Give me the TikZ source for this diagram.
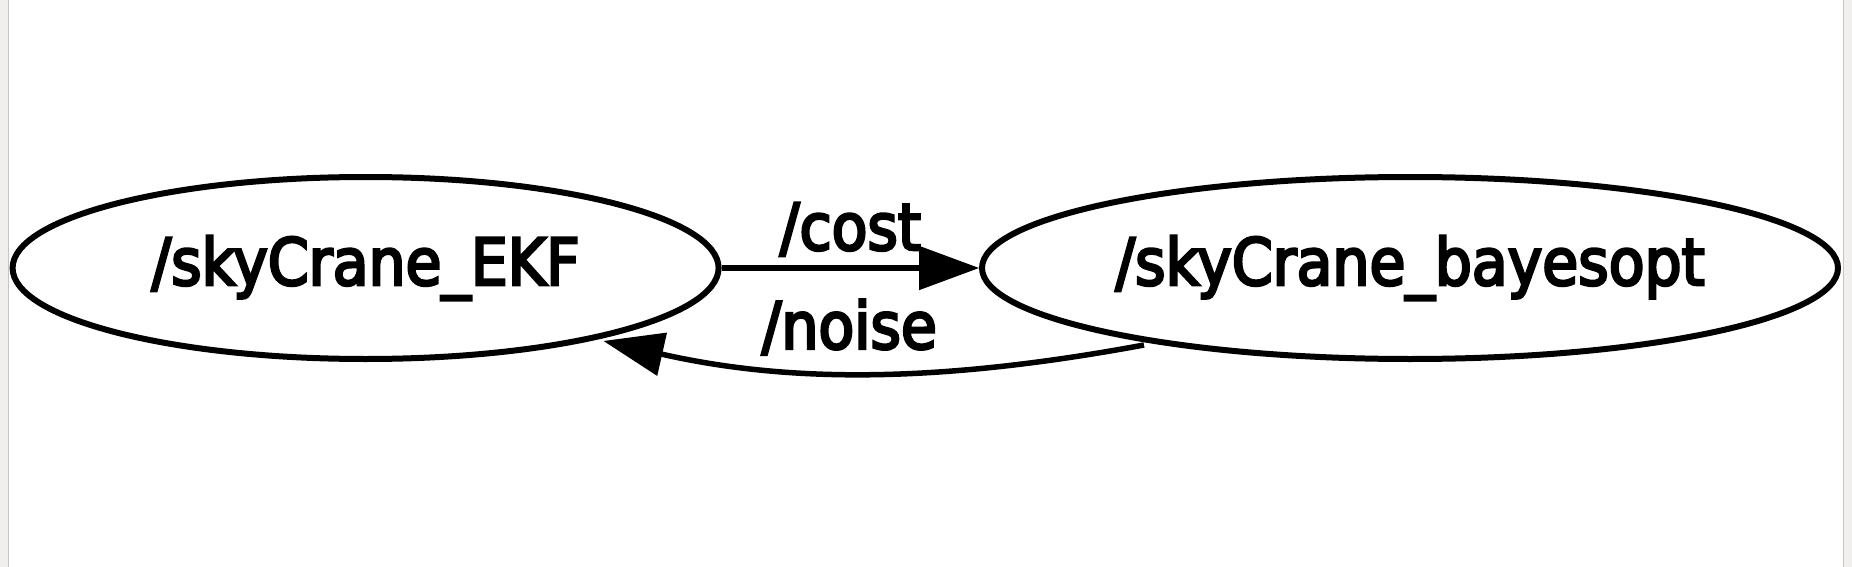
\documentclass[tikz,border=0pt]{standalone}
\usepackage{fontspec}
\newfontfamily\dvc[FakeBold=4]{DejaVu Sans Condensed}
\usetikzlibrary{shapes.geometric,arrows.meta,calc}
\definecolor{stripgrey}{HTML}{F0EFEE}
\definecolor{stripline}{HTML}{C4C4C4}
\begin{document}
\begin{tikzpicture}[x=1pt,y=-1pt,
  rosnode/.style={draw=black, line width=6pt, ellipse, inner sep=0pt,
    font=\dvc\fontsize{65}{70}\selectfont},
  rosedge/.style={draw=black, line width=5.5pt,
    -{Triangle[length=60pt,width=44pt,line width=1.5pt]}},
  edgelabel/.style={font=\dvc\fontsize{65}{70}\selectfont, inner sep=0pt, anchor=base}
]
\useasboundingbox (0,0) rectangle (1852,567);
\fill[white] (0,0) rectangle (1852,567);
\fill[stripgrey] (0,0) rectangle (8,567);
\fill[stripgrey] (1844,0) rectangle (1852,567);
\draw[stripline, line width=1.2pt] (8.5,0) -- (8.5,567);
\draw[stripline, line width=1.2pt] (1843.5,0) -- (1843.5,567);

\node[rosnode, minimum width=706pt, minimum height=182pt] (ekf) at (365.6,268) {/skyCrane\_EKF};
\node[rosnode, minimum width=856pt, minimum height=182pt] (bo) at (1410,268) {/skyCrane\_bayesopt};

\draw[rosedge] (ekf.east) -- node[edgelabel, yshift=18pt] (lcost) {/cost} (bo.west);

\coordinate (nstart) at ($(bo.center)+(-266,77)$);
\coordinate (nend) at ($(ekf.center)+(238,73)$);
\draw[rosedge] (nstart) .. controls ($(nstart)+(-200,37)$) and ($(nend)+(190,43)$) .. node[edgelabel, pos=0.54, yshift=24pt] (lnoise) {/noise} (nend);
\end{tikzpicture}
\end{document}
